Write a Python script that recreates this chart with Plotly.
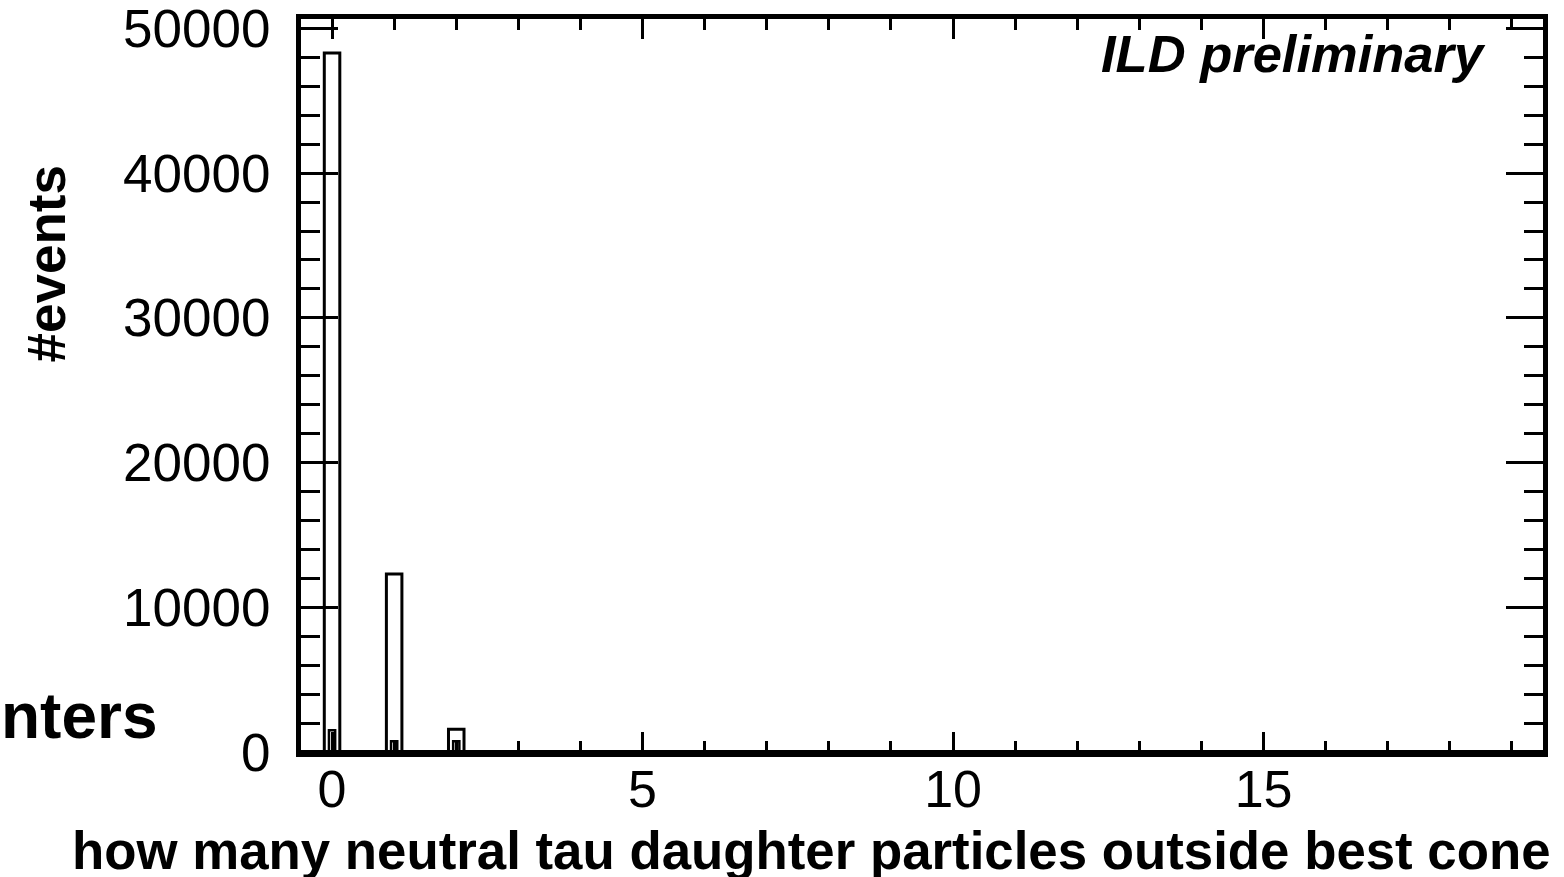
import plotly.graph_objects as go

# Histogram contents (bin centre -> entries)
bin_centres = [0, 1, 2]
all_counts = [48300, 12300, 1580]
sub_counts = [1500, 750, 750]

# Axis ticks
x_tick_vals = [0, 5, 10, 15]
x_tick_text = ["0", "5", "10", "15"]
y_tick_vals = [0, 10000, 20000, 30000, 40000, 50000]
y_tick_text = ["0", "10000", "20000", "30000", "40000", "50000"]

X_RANGE = [-0.5, 19.5]
Y_MAX = 50650

FONT = "Liberation Sans, Arial, Helvetica, sans-serif"

# plot area in pixels
L, R, T, B = 301, 21, 19, 125
W, H = 1564, 877
x0_px, x1_px = 299, 1545
y0_px, y1_px = 754, 17


def px(xp):
    return (xp - x0_px) / (x1_px - x0_px)


def py(yp):
    return (y0_px - yp) / (y0_px - y1_px)


fig = go.Figure()

fig.add_trace(go.Bar(
    x=bin_centres, y=all_counts, width=0.25,
    marker=dict(color="white", line=dict(color="black", width=3)),
    showlegend=False,
))
fig.add_trace(go.Bar(
    x=bin_centres, y=sub_counts, width=0.1,
    marker=dict(color="white", line=dict(color="black", width=2.5)),
    showlegend=False,
))
# histogram baseline along empty bins
fig.add_trace(go.Scatter(
    x=X_RANGE, y=[0, 0], mode="lines",
    line=dict(color="black", width=4), showlegend=False,
    cliponaxis=False,
))

fig.update_layout(
    width=W, height=H,
    margin=dict(l=L, r=R, t=T, b=B, autoexpand=False),
    paper_bgcolor="white", plot_bgcolor="white",
    barmode="overlay",
    font=dict(family=FONT, color="black"),
    showlegend=False,
)

fig.update_xaxes(
    range=X_RANGE, showgrid=False, zeroline=False, automargin=False,
    showline=True, linecolor="black", linewidth=5, mirror="ticks",
    ticks="inside", ticklen=20, tickwidth=3, tickcolor="black",
    tickvals=x_tick_vals, ticktext=x_tick_text,
    tickfont=dict(size=52, family=FONT),
    minor=dict(dtick=1, tick0=0, ticks="inside", ticklen=11,
               tickwidth=3, tickcolor="black", showgrid=False),
    ticklabelstandoff=-12, ticklabeloverflow="allow",
)
fig.update_yaxes(
    range=[0, Y_MAX], showgrid=False, zeroline=False, automargin=False,
    showline=True, linecolor="black", linewidth=5, mirror="ticks",
    ticks="inside", ticklen=37, tickwidth=3, tickcolor="black",
    tickvals=y_tick_vals, ticktext=y_tick_text,
    tickfont=dict(size=53, family=FONT),
    minor=dict(dtick=2000, tick0=0, ticks="inside", ticklen=19,
               tickwidth=3, tickcolor="black", showgrid=False),
    ticklabelstandoff=15, ticklabeloverflow="allow",
)

annotations = [
    dict(text="<b><i>ILD preliminary</i></b>", x=px(1490), y=py(52),
         xanchor="right", yanchor="middle", font=dict(size=52.5)),
    dict(text="<b>#events</b>", x=px(44), y=py(263), textangle=-90,
         xanchor="center", yanchor="middle", font=dict(size=53)),
    dict(text="<b>how many neutral tau daughter particles outside best cone</b>",
         x=px(1555), y=py(853), xanchor="right", yanchor="middle",
         font=dict(size=52.8)),
    dict(text="<b>nters</b>", x=px(158), y=py(718), xanchor="right",
         yanchor="middle", font=dict(size=64)),
]
for a in annotations:
    a.update(xref="paper", yref="paper", showarrow=False)
    a["font"]["family"] = FONT
    a["font"]["color"] = "black"
fig.update_layout(annotations=annotations)

fig.write_html("out.html")
